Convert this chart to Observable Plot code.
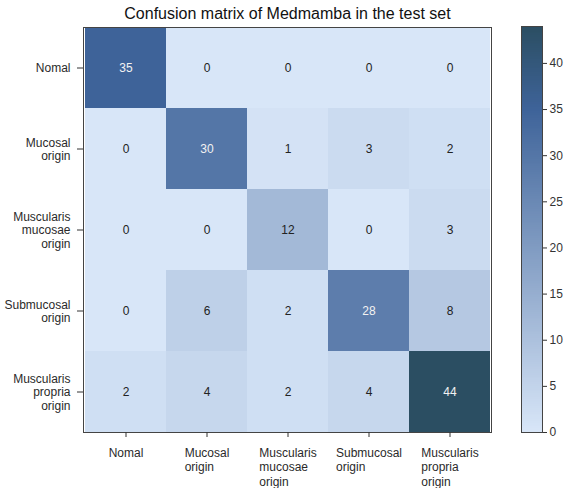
<!DOCTYPE html>
<html>
<head>
<meta charset="utf-8">
<script src="https://cdn.jsdelivr.net/npm/d3@7"></script>
<script src="https://cdn.jsdelivr.net/npm/@observablehq/plot@0.6"></script>
<style>
  body { margin: 0; background: #fff; }
  #wrap { position: relative; width: 567px; height: 488px; font-family: "Liberation Sans", Arial, sans-serif; }
  #wrap svg { position: absolute; top: 0; }
</style>
</head>
<body>
<div id="wrap"></div>
<script>
const title = "Confusion matrix of Medmamba in the test set";
const classes = ["Nomal", "Mucosal\norigin", "Muscularis\nmucosae\norigin", "Submucosal\norigin", "Muscularis\npropria\norigin"];
const matrix = [
  [35, 0, 0, 0, 0],
  [0, 30, 1, 3, 2],
  [0, 0, 12, 0, 3],
  [0, 6, 2, 28, 8],
  [2, 4, 2, 4, 44]
];
const colorTicks = [0, 5, 10, 15, 20, 25, 30, 35, 40];
const colorMax = 44;

const FONT = "'Liberation Sans', Arial, sans-serif";
const cells = [];
matrix.forEach((row, i) => row.forEach((v, j) => cells.push({actual: classes[i], pred: classes[j], value: v})));

const colorScale = {
  type: "linear",
  domain: [0, 35, colorMax],
  range: ["#d8e6f8", "#3e6399", "#2b4e62"],
  interpolate: "rgb"
};

const ctx = document.createElement("canvas").getContext("2d");
ctx.font = "12px " + FONT;
const halfW = c => Math.max(...c.split("\n").map(s => ctx.measureText(s).width)) / 2;

const xLabelMarks = classes.map(c => Plot.text([c], {
  x: d => d, text: d => d, frameAnchor: "bottom", lineAnchor: "top",
  textAnchor: "start", dx: -halfW(c), dy: 14, fontSize: 12, fill: "#2a2a2a", lineHeight: 1.2
}));

const main = Plot.plot({
  width: 567, height: 488,
  marginLeft: 83, marginRight: 76, marginTop: 27, marginBottom: 56,
  style: {fontFamily: FONT, fontSize: "12px", color: "#2a2a2a", background: "transparent"},
  x: {domain: classes, padding: 0, label: null},
  y: {domain: classes, padding: 0, label: null},
  color: colorScale,
  marks: [
    Plot.cell(cells, {x: "pred", y: "actual", fill: "value", inset: 0}),
    Plot.text(cells, {x: "pred", y: "actual", text: d => String(d.value), fontSize: 12,
      fill: d => d.value > colorMax / 2 ? "#f2f2f2" : "#222"}),
    Plot.frame({stroke: "#444", strokeWidth: 1}),
    Plot.axisY({tickSize: 6, tickPadding: 7, fontSize: 12, lineHeight: 1.15, label: null, stroke: "#333"}),
    Plot.axisX({tickSize: 5, tickFormat: () => "", label: null, stroke: "#333"}),
    ...xLabelMarks,
    Plot.text([title], {frameAnchor: "top", lineAnchor: "bottom", dy: -9, fontSize: 16, fill: "#111"})
  ]
});

const step = 0.2;
const grad = d3.range(0, colorMax, step);
const bar = Plot.plot({
  width: 67, height: 488,
  marginLeft: 21, marginRight: 25, marginTop: 26, marginBottom: 56,
  style: {fontFamily: FONT, fontSize: "12px", color: "#333", background: "transparent"},
  y: {domain: [0, colorMax], label: null},
  color: colorScale,
  marks: [
    Plot.rect(grad, {y1: d => d, y2: d => Math.min(colorMax, d + step * 3), fill: d => d + step / 2, shapeRendering: "crispEdges"}),
    Plot.frame({stroke: "#444", strokeWidth: 1}),
    Plot.axisY({anchor: "right", ticks: colorTicks, tickSize: 4, tickPadding: 3, fontSize: 12, label: null})
  ]
});
bar.style.left = "500px";
main.style.left = "0px";
const wrap = document.getElementById("wrap");
wrap.appendChild(main);
wrap.appendChild(bar);
</script>
</body>
</html>
